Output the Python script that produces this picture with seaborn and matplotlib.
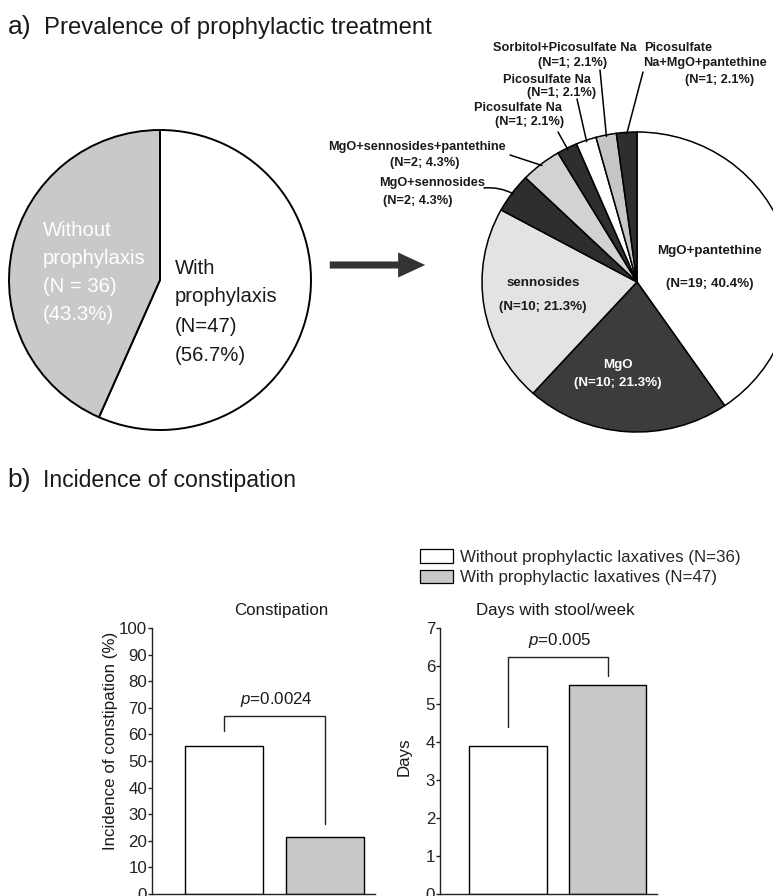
import numpy as np
import pandas as pd
import matplotlib
matplotlib.use("Agg")
import matplotlib.pyplot as plt
from matplotlib.patches import Patch, FancyArrowPatch
import seaborn as sns

# ---- data -------------------------------------------------------------
overall_labels = ["With prophylaxis", "Without prophylaxis"]
overall_n = [47, 36]
overall_pct = [56.7, 43.3]

regimens = ["MgO+pantethine", "MgO", "sennosides", "MgO+sennosides",
            "MgO+sennosides+pantethine", "Picosulfate Na", "Picosulfate Na",
            "Sorbitol+Picosulfate Na", "Picosulfate Na+MgO+pantethine"]
regimen_n = [19, 10, 10, 2, 2, 1, 1, 1, 1]
regimen_pct = [40.4, 21.3, 21.3, 4.3, 4.3, 2.1, 2.1, 2.1, 2.1]

groups = ["Without prophylactic laxatives (N=36)",
          "With prophylactic laxatives (N=47)"]
constipation_pct = [55.6, 21.3]
stool_days = [3.9, 5.5]
p_constipation = "0.0024"
p_days = "0.005"

# ---- style ------------------------------------------------------------
sns.set_theme(style="ticks")
plt.rcParams["font.family"] = ["Liberation Sans", "DejaVu Sans"]
plt.rcParams["mathtext.fontset"] = "custom"
plt.rcParams["mathtext.it"] = "Liberation Sans:italic"
plt.rcParams["mathtext.rm"] = "Liberation Sans"

W, H = 773, 896
fig = plt.figure(figsize=(W / 100, H / 100), dpi=100)
fig.patch.set_facecolor("white")


def fx(x):
    return x / W


def fy(y):
    return 1 - y / H


GREY = "#c9c9c9"
DARK = "#2e2e2e"
TXT = "#1a1a1a"
FS = 12.2

# ---- section titles ---------------------------------------------------
fig.text(fx(8), fy(27), "a)", fontsize=19, color=TXT, va="center", ha="left")
fig.text(fx(44), fy(28), "Prevalence of prophylactic treatment", fontsize=17.2,
         color=TXT, va="center", ha="left")
fig.text(fx(7), fy(480), "b)", fontsize=19, color=TXT, va="center", ha="left")
fig.text(fx(43), fy(481), "Incidence of constipation", fontsize=16.6,
         color=TXT, va="center", ha="left")


def pie_axes(cx, cy, rx, ry):
    m = 1.03
    ax = fig.add_axes([fx(cx - rx * m), fy(cy + ry * m), 2 * rx * m / W, 2 * ry * m / H])
    return ax


def fix_limits(ax):
    ax.set_xlim(-1.03, 1.03)
    ax.set_ylim(-1.03, 1.03)
    ax.set_aspect("auto")
    ax.axis("off")


# ---- overall pie ------------------------------------------------------
axL = pie_axes(160, 280, 151, 150)
axL.pie(overall_n, colors=["white", GREY], startangle=90, counterclock=False,
        wedgeprops=dict(edgecolor="black", linewidth=1.4))
fix_limits(axL)

with_lines = ["With", "prophylaxis", f"(N={overall_n[0]})", f"({overall_pct[0]}%)"]
for i, s in enumerate(with_lines):
    fig.text(fx(175), fy(268 + 29 * i), s, fontsize=14.6, color=TXT,
             ha="left", va="center")
without_lines = ["Without", "prophylaxis", f"(N = {overall_n[1]})", f"({overall_pct[1]}%)"]
for i, s in enumerate(without_lines):
    fig.text(fx(43), fy(230 + 28 * i), s, fontsize=14.6, color="white",
             ha="left", va="center")

# arrow between the pies
fig.add_artist(FancyArrowPatch((fx(327), fy(265)), (fx(428), fy(265)),
                               transform=fig.transFigure,
                               arrowstyle="simple,head_length=1.3,head_width=1.2,tail_width=0.34",
                               mutation_scale=15, color="#333333", lw=0))

# ---- regimen pie ------------------------------------------------------
axR = pie_axes(637, 282, 155, 150)
reg_colors = ["white", "#3c3c3c", "#e3e3e3", DARK, "#d2d2d2", DARK, "white",
              "#c6c6c6", DARK]
wedges, _ = axR.pie(regimen_n, colors=reg_colors, startangle=90, counterclock=False,
                    wedgeprops=dict(edgecolor="black", linewidth=1.1))
fix_limits(axR)

bold = dict(fontsize=9.2, fontweight="bold", ha="center", va="center")
inside = [
    (0, 710, 251, 33, TXT), (1, 618, 365, 18, "white"), (2, 543, 283, 24, TXT),
]
for idx, x, y, gap, c in inside:
    fig.text(fx(x), fy(y), regimens[idx], color=c, **dict(bold, fontsize=9.6))
    fig.text(fx(x), fy(y + gap), f"(N={regimen_n[idx]}; {regimen_pct[idx]}%)",
             color=c, **dict(bold, fontsize=9.6))

# outside labels: (wedge index, [(line, x, y)], leader start, leader curvature)
outside = [
    (7, [("Sorbitol+Picosulfate Na", 565, 48), (f"(N={regimen_n[7]}; {regimen_pct[7]}%)", 573, 63)], (600, 70), 0),
    (8, [("Picosulfate", 678, 48), ("Na+MgO+pantethine", 705, 63),
         (f"(N={regimen_n[8]}; {regimen_pct[8]}%)", 720, 80)], (643, 72), 0),
    (6, [("Picosulfate Na", 547, 80), (f"(N={regimen_n[6]}; {regimen_pct[6]}%)", 562, 93)], (577, 99), 0),
    (5, [("Picosulfate Na", 518, 108), (f"(N={regimen_n[5]}; {regimen_pct[5]}%)", 530, 122)], (558, 132), 0),
    (4, [("MgO+sennosides+pantethine", 417, 147), (f"(N={regimen_n[4]}; {regimen_pct[4]}%)", 425, 163)], (510, 155), 0),
    (3, [("MgO+sennosides", 432, 183), (f"(N={regimen_n[3]}; {regimen_pct[3]}%)", 418, 201)], (484, 188), -0.15),
]
for idx, lines, start, rad in outside:
    for s, x, y in lines:
        fig.text(fx(x), fy(y), s, color=TXT, **bold)
    w = wedges[idx]
    ang = np.deg2rad((w.theta1 + w.theta2) / 2)
    axR.annotate("", xy=(0.99 * np.cos(ang), 0.99 * np.sin(ang)), xycoords="data",
                 xytext=(fx(start[0]), fy(start[1])), textcoords="figure fraction",
                 arrowprops=dict(arrowstyle="-", lw=1.1, color="black",
                                 shrinkA=0, shrinkB=0,
                                 connectionstyle=f"arc3,rad={rad}"))

# ---- bar charts -------------------------------------------------------
bar_df = pd.DataFrame({"group": groups, "constipation": constipation_pct,
                       "days": stool_days})
bar_pal = {groups[0]: "white", groups[1]: GREY}


def bar_axes(left, right, top, bottom):
    return fig.add_axes([fx(left), fy(bottom), (right - left) / W, (bottom - top) / H])


def draw_bars(ax, col, ymax, step, xlim, ylabel, label_xy, title, title_x,
              pval, legs, top):
    sns.barplot(data=bar_df, x="group", y=col, hue="group", palette=bar_pal,
                edgecolor="black", linewidth=1.0, width=0.78, legend=False, ax=ax)
    ax.set_xlim(*xlim)
    ax.set_ylim(0, ymax)
    ax.set_yticks(np.arange(0, ymax + step / 2, step))
    ax.set_xticks([])
    ax.set_xlabel("")
    ax.set_ylabel(ylabel, fontsize=FS, color=TXT)
    ax.yaxis.set_label_coords(*label_xy)
    ax.yaxis.label.set_va("center")
    sns.despine(ax=ax)
    for sp in ("left", "bottom"):
        ax.spines[sp].set_linewidth(1.0)
        ax.spines[sp].set_color("#222222")
    ax.tick_params(axis="y", direction="out", length=3, width=1.0, labelsize=FS,
                   colors="#222222", pad=0.5)
    ax.patch.set_alpha(0)
    vals = bar_df[col].tolist()
    ax.plot([0, 0, 1, 1], [vals[0] + legs[0], top, top, vals[1] + legs[1]],
            color="#222222", lw=1.0)
    ax.text(0.52, top + (ymax * 0.025), f"$p$={pval}", ha="center", va="bottom",
            fontsize=FS, color=TXT)
    ax.text(title_x, 1.0 + 18 / 266, title, transform=ax.transAxes,
            ha="center", va="center", fontsize=FS, color=TXT)


ax1 = bar_axes(152, 375, 628, 894)
draw_bars(ax1, "constipation", 100, 10, (-0.713, 1.495),
          "Incidence of constipation (%)", ((110 - 152) / 223, (894 - 741) / 266),
          "Constipation", (281 - 152) / 223, p_constipation, (5.5, 5.0), 67)

ax2 = bar_axes(440, 657, 628, 894)
draw_bars(ax2, "days", 7, 1, (-0.683, 1.497), "Days",
          ((404 - 440) / 217, (894 - 757) / 266), "Days with stool/week",
          (555 - 440) / 217, p_days, (0.5, 0.24), 6.24)

handles = [Patch(facecolor="white", edgecolor="black", linewidth=0.9),
           Patch(facecolor=GREY, edgecolor="black", linewidth=0.9)]
fig.legend(handles, groups, loc="upper left", bbox_to_anchor=(fx(420), fy(549)),
           frameon=False, fontsize=FS, handlelength=1.95, handleheight=0.85,
           handletextpad=0.4, labelspacing=0.3, borderpad=0, borderaxespad=0)

fig.savefig("out.png", dpi=100, facecolor="white")
